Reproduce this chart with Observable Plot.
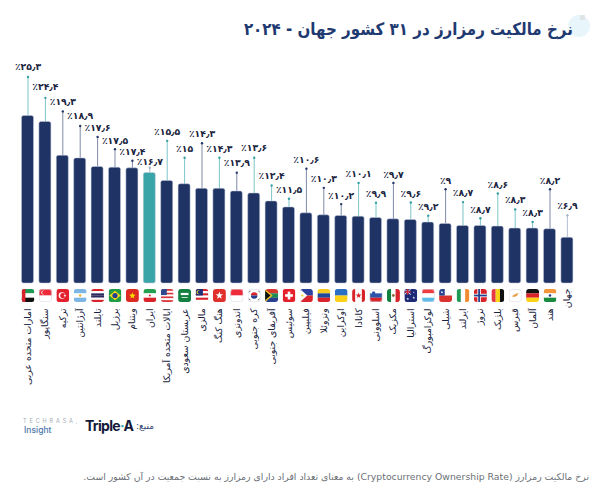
<!DOCTYPE html>
<html lang="fa">
<head>
<meta charset="utf-8">
<script src="https://cdn.jsdelivr.net/npm/d3@7"></script>
<script src="https://cdn.jsdelivr.net/npm/@observablehq/plot@0.6"></script>
<style>
html,body{margin:0;padding:0;background:#fff;width:600px;height:490px;overflow:hidden}
body{position:relative;font-family:"DejaVu Sans",sans-serif}
.abs{position:absolute;white-space:nowrap}
#chart{position:absolute;left:0;top:60px}
#chart svg{font-family:"DejaVu Sans",sans-serif;background:transparent}
</style>
</head>
<body>
<div class="abs" style="left:568px;top:15px;width:22px;height:22px;border-radius:50%;background:#e8f5fb"></div>
<div class="abs" style="left:580px;top:15px;width:5px;height:5px;border-radius:1px;background:#dfe3e6"></div>
<div class="abs" id="title" dir="rtl" style="right:27px;top:19px;font-size:17px;font-weight:700;color:#1f3a70;transform:scaleX(.887);transform-origin:right center">نرخ مالکیت رمزارز در ۳۱ کشور جهان - ۲۰۲۴</div>
<div id="chart"></div>
<div class="abs" style="left:23px;top:418px;font-size:5.5px;letter-spacing:2.9px;color:#a3abb5;font-family:Inter,sans-serif">TECHRASA,</div>
<div class="abs" style="left:24px;top:425px;font-size:8.5px;color:#4a76a8;font-family:Inter,sans-serif;font-weight:500">Insight</div>
<div class="abs" style="left:85px;top:417px;font-size:14px;font-weight:700;letter-spacing:-.7px;color:#14193a;font-family:Inter,sans-serif">Triple<span style="color:#3aa5a8">·</span>A</div>
<div class="abs" dir="rtl" style="left:136px;top:421px;font-size:9px;color:#33466f">منبع:</div>
<div class="abs" id="note" dir="rtl" style="right:11px;top:471px;font-size:9.3px;color:#6b6f76">نرخ مالکیت رمزارز (Cryptocurrency Ownership Rate) به معنای تعداد افراد دارای رمزارز به نسبت جمعیت در آن کشور است.</div>
<script>
const countries = ["امارات متحده عربی","سنگاپور","ترکیه","آرژانتین","تایلند","برزیل","ویتنام","ایران","ایالات متحده آمریکا","عربستان سعودی","مالزی","هنگ کنگ","اندونزی","کره جنوبی","آفریقای جنوبی","سوئیس","فیلیپین","ونزوئلا","اوکراین","کانادا","اسلوونی","مکزیک","استرالیا","لوکزامبورگ","شیلی","ایرلند","نروژ","بلژیک","قبرس","آلمان","هند","جهان"];
const values = [25.3,24.4,19.3,18.9,17.6,17.5,17.4,16.7,15.5,15,14.3,14.3,13.9,13.6,12.4,11.5,10.6,10.3,10.2,10.1,9.9,9.7,9.6,9.2,9,8.7,8.7,8.6,8.3,8.3,8.2,6.9];
const leaderTops = [31.2,28.05,26,23.8,22.15,20.3,18.55,17.5,21.55,19,21.2,19,16.75,19,14.8,12.8,17.35,14.45,12,15.2,12.2,15.2,12.25,10.25,14.25,12.3,9.85,13.6,11.2,9.3,14.25,10.3];
const labelLevels = [32.67,29.76,27.39,25.23,23.46,21.6,19.94,18.32,22.85,20.35,22.61,20.35,18.17,20.44,16.21,14.2,18.69,15.82,13.29,16.47,13.55,16.42,13.55,11.59,15.56,13.64,11.13,14.91,12.64,10.68,15.56,11.68];
const leaderTones = ["teal","teal","navy","navy","navy","navy","navy","pale","teal","teal","navy","teal","navy","teal","teal","teal","navy","navy","navy","teal","teal","navy","teal","teal","navy","teal","teal","teal","teal","teal","navy","pale"];
const highlighted = ["ایران"];

const toneLine = {teal:"#7cc5c8",navy:"#7f8aa9",pale:"#b4bdd0"};
const toneDot = {teal:"#35a0a5",navy:"#243766",pale:"#a6b0c6"};

// flags: small SVGs built from bands
const band = (dir, cols) => cols.map((c,i)=> dir==="h"
  ? `<rect x="0" y="${i*30/cols.length}" width="30" height="${30/cols.length+.2}" fill="${c}"/>`
  : `<rect x="${i*30/cols.length}" y="0" width="${30/cols.length+.2}" height="30" fill="${c}"/>`).join("");
const flagSvg = (body, border) => "data:image/svg+xml;utf8," + encodeURIComponent(
  `<svg xmlns="http://www.w3.org/2000/svg" width="30" height="30" viewBox="0 0 30 30"><clipPath id="c"><rect width="30" height="30" rx="7"/></clipPath><g clip-path="url(#c)">${body}</g>${border?`<rect x=".75" y=".75" width="28.5" height="28.5" rx="6.5" fill="none" stroke="#d5dbe8" stroke-width="1.5"/>`:""}</svg>`);
const star = (cx,cy,r,f)=>{let p=[];for(let i=0;i<10;i++){const a=-Math.PI/2+i*Math.PI/5,q=i%2?r*.42:r;p.push((cx+q*Math.cos(a)).toFixed(1)+","+(cy+q*Math.sin(a)).toFixed(1));}return `<polygon points="${p.join(" ")}" fill="${f}"/>`;};
const flags = [
  flagSvg(band("h",["#1f9a55","#fff","#111"])+`<rect width="9" height="30" fill="#d8232a"/>`),
  flagSvg(band("h",["#ee2b3b","#fff"])+`<circle cx="10" cy="8" r="4.5" fill="#fff"/><circle cx="12" cy="8" r="4.5" fill="#ee2b3b"/>`,true),
  flagSvg(`<rect width="30" height="30" fill="#e3202c"/><circle cx="13" cy="15" r="7.5" fill="#fff"/><circle cx="15" cy="15" r="6" fill="#e3202c"/>`+star(20,15,3.6,"#fff")),
  flagSvg(band("h",["#7cb6e4","#fff","#7cb6e4"])+`<circle cx="15" cy="15" r="3" fill="#f2b632"/>`),
  flagSvg(band("h",["#d8232a","#fff","#2d2a5e","#2d2a5e","#fff","#d8232a"])),
  flagSvg(`<rect width="30" height="30" fill="#1f9a45"/><polygon points="15,4 28,15 15,26 2,15" fill="#f7d417"/><circle cx="15" cy="15" r="6" fill="#22408f"/>`),
  flagSvg(`<rect width="30" height="30" fill="#dd2a23"/>`+star(15,15.5,8,"#fce000")),
  flagSvg(band("h",["#239f4f","#fff","#d8232a"])+`<circle cx="15" cy="15" r="2.4" fill="#d8232a"/>`),
  flagSvg(band("h",["#d83a3f","#fff","#d83a3f","#fff","#d83a3f","#fff","#d83a3f"])+`<rect width="14" height="14" fill="#2f4a8c"/>`),
  flagSvg(`<rect width="30" height="30" fill="#14803f"/><rect x="6" y="9" width="18" height="5" fill="#fff"/><rect x="8" y="19" width="14" height="1.8" fill="#fff"/>`),
  flagSvg(band("h",["#d8232a","#fff","#d8232a","#fff","#d8232a","#fff"])+`<rect width="17" height="15" fill="#1d2f7a"/><circle cx="7" cy="7.5" r="4.5" fill="#f7cf1e"/><circle cx="9" cy="7.5" r="4" fill="#1d2f7a"/>`),
  flagSvg(`<rect width="30" height="30" fill="#e0302c"/>`+star(15,15,9,"#fff")),
  flagSvg(band("h",["#ee2b3b","#fff"]),true),
  flagSvg(`<rect width="30" height="30" fill="#fff"/><path d="M7.5 15a7.5 7.5 0 0 1 15 0z" fill="#d8232a"/><path d="M7.5 15a7.5 7.5 0 0 0 15 0z" fill="#23408f"/><g stroke="#222" stroke-width="1.6"><path d="M3 8l3-4M25 4l3 4M3 22l3 4M24 26l3-4"/></g>`,true),
  flagSvg(band("h",["#d8392f","#1d8a52","#2a3f8f"])+`<polygon points="0,0 0,30 15,15" fill="#111"/><path d="M0 2L15 15L0 28" fill="none" stroke="#f7c92a" stroke-width="3"/>`),
  flagSvg(`<rect width="30" height="30" fill="#e3202c"/><rect x="12" y="6" width="6" height="18" fill="#fff"/><rect x="6" y="12" width="18" height="6" fill="#fff"/>`),
  flagSvg(band("h",["#2b3f9c","#d8232a"])+`<polygon points="0,0 17,15 0,30" fill="#fff"/><circle cx="5.5" cy="15" r="2.6" fill="#f7cf1e"/>`),
  flagSvg(band("h",["#f7c91e","#1f4a9c","#d8232a"])),
  flagSvg(band("h",["#2a6fc4","#fcd116"])),
  flagSvg(band("v",["#d8232a","#fff","#fff","#d8232a"])+star(15,15,7,"#d8232a")),
  flagSvg(band("h",["#fff","#2a55a8","#d8232a"])+`<rect x="6" y="6" width="7" height="10" rx="2" fill="#2a55a8"/>`,true),
  flagSvg(band("v",["#14803f","#fff","#d8232a"])+`<circle cx="15" cy="15" r="3.2" fill="#8a6a3c"/>`),
  flagSvg(`<rect width="30" height="30" fill="#1c2a78"/><rect width="15" height="13" fill="#283c8c"/><path d="M0 0L15 13M15 0L0 13" stroke="#fff" stroke-width="2"/><path d="M7.5 0V13M0 6.5H15" stroke="#d8232a" stroke-width="3"/>`+star(22,20,3.2,"#fff")+star(22,8,2,"#fff")+star(8,23,3.2,"#fff")),
  flagSvg(band("h",["#ee3b3f","#fff","#5cbde8"]),true),
  flagSvg(band("h",["#fff","#d8332c"])+`<rect width="13" height="15" fill="#23408f"/>`+star(6.5,7.5,3.4,"#fff")),
  flagSvg(band("v",["#1f9a55","#fff","#f28a30"])),
  flagSvg(`<rect width="30" height="30" fill="#d8232a"/><rect x="8" width="8" height="30" fill="#fff"/><rect y="11" width="30" height="8" fill="#fff"/><rect x="10" width="4" height="30" fill="#23408f"/><rect y="13" width="30" height="4" fill="#23408f"/>`),
  flagSvg(band("v",["#e63946","#f7d417","#111"])),
  flagSvg(`<rect width="30" height="30" fill="#fff"/><path d="M8 16Q14 10 23 9Q20 17 14 18Q10 19 8 16z" fill="#e8a04a"/>`,true),
  flagSvg(band("h",["#111","#d8232a","#fcd116"])),
  flagSvg(band("h",["#f6963a","#fff","#1a8a3c"])+`<circle cx="15" cy="15" r="3" fill="#23408f"/>`),
  null
];

const rows = countries.map((name,i)=>({
  name, value: values[i], top: leaderTops[i], level: labelLevels[i], tone: leaderTones[i], flag: flags[i],
  hi: highlighted.includes(name)
}));

const faDigits = "۰۱۲۳۴۵۶۷۸۹";
const faLabel = v => "٪" + String(v).replace(/\d/g,d=>faDigits[d]).replace(".","٫");

const chart = Plot.plot({
  width: 600, height: 340,
  marginTop: 0, marginBottom: 0, marginLeft: 0, marginRight: 0,
  style: {background:"transparent", overflow:"visible"},
  x: {type:"band", domain: countries, range:[16.1,578.3], padding:0.31, round:false, axis:null},
  y: {domain:[-17.67,33.69], range:[340,0], axis:null},
  marks: [
    Plot.ruleX(rows,{x:"name", y1:"value", y2:"top", stroke:d=>toneLine[d.tone], strokeWidth:1}),
    Plot.dot(rows,{x:"name", y:"top", r:1.2, fill:d=>toneDot[d.tone], stroke:"none"}),
    Plot.barY(rows,{x:"name", y:"value", fill:d=>d.hi?"#3aa5a8":"#1f3364", stroke:"#c3cbdc", strokeWidth:.5, rx:2}),
    Plot.text(rows,{x:"name", y:"level", text:d=>faLabel(d.value), fontSize:9.3, fontWeight:700, fill:"#1a2440"}),
    Plot.image(rows.filter(d=>d.flag),{x:"name", y:()=>-1.81, src:"flag", width:13, height:13}),
    Plot.text(rows,{x:"name", y:d=>d.flag?-3.75:-0.75, text:"name", rotate:-90, textAnchor:"end", fontSize:9.3, fill:"#1a2440"})
  ]
});
document.getElementById("chart").appendChild(chart);
</script>
</body>
</html>
